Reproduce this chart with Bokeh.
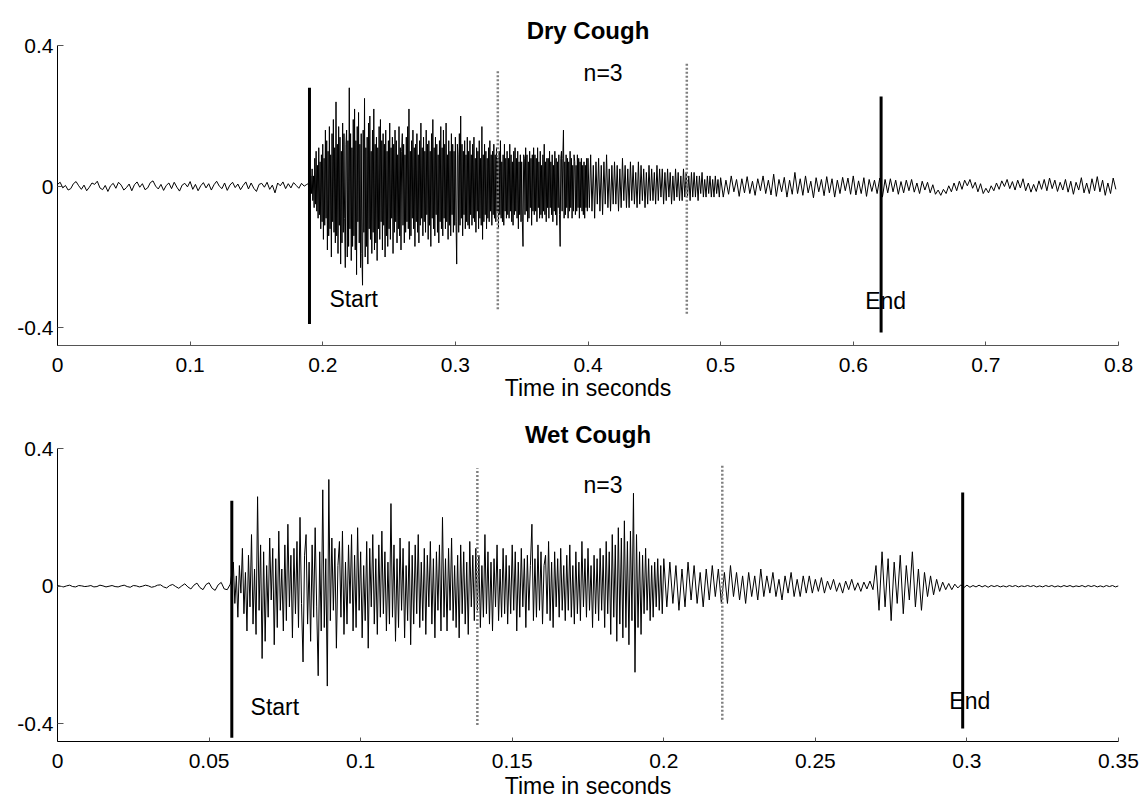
import numpy as np
from bokeh.plotting import figure
from bokeh.layouts import column
from bokeh.models import Range1d, FixedTicker, CustomJSTickFormatter, ColumnDataSource
from bokeh.core.properties import value
from bokeh.embed import file_html
from bokeh.resources import INLINE

FONT = "Liberation Sans"

# ================= Dry cough waveform (amplitude) =================
# segment 1: t = 0 .. 0.188 s, every 2 ms
dry_pre_start, dry_pre_step = 0.0, 0.002
dry_pre = [
    0.006, 0.012, -0.004, 0.003, -0.010, -0.006, 0.008, 0.014, 0.002, -0.008,
    0.004, -0.012, -0.002, 0.010, 0.006, 0.015, -0.004, -0.009, 0.003, -0.014,
    0.002, 0.009, -0.005, 0.012, 0.004, -0.010, -0.003, 0.007, -0.012, 0.005,
    0.013, -0.002, 0.008, -0.009, -0.004, 0.011, 0.016, 0.001, -0.007, 0.006,
    -0.011, 0.003, 0.010, -0.006, 0.012, -0.002, -0.013, 0.004, 0.009, -0.001,
    0.014, -0.008, 0.006, -0.012, 0.002, 0.011, -0.004, 0.008, -0.010, 0.005,
    0.015, 0.001, -0.006, 0.010, -0.011, 0.004, 0.012, -0.003, 0.007, -0.009,
    0.003, 0.013, -0.007, 0.010, -0.005, -0.014, 0.006, 0.009, -0.002, 0.012,
    -0.008, 0.004, -0.018, 0.010, 0.002, 0.013, -0.006, 0.008, -0.004, 0.011,
    0.003, -0.005, 0.009, 0.001, 0.006,
]
# segment 2: t = 0.190 .. 0.3995 s, every 0.5 ms
dry_burst_start, dry_burst_step = 0.190, 0.0005
dry_burst = [
    0.01, -0.02, 0.03, -0.02, 0.05, -0.04, 0.03, -0.06, 0.08, -0.05, 0.10, -0.07, 0.06, -0.09, 0.11, -0.08, 0.07, -0.12, 0.09, -0.10,
    0.12, -0.15, 0.08, -0.11, 0.16, -0.09, 0.13, -0.18, 0.10, -0.14, 0.17, -0.12, 0.09, -0.20, 0.15, -0.10, 0.19, -0.13, 0.11, -0.16,
    0.24, -0.14, 0.12, -0.19, 0.17, -0.11, 0.14, -0.22, 0.10, -0.16, 0.18, -0.13, 0.15, -0.09, -0.23, 0.12, 0.16, -0.20, 0.13, -0.17,
    0.28, -0.12, 0.15, -0.21, 0.11, -0.17, 0.19, -0.14, 0.22, -0.18, 0.13, -0.25, 0.17, -0.10, 0.21, -0.16, 0.12, -0.23, 0.15, -0.19,
    -0.28, 0.16, -0.13, 0.25, -0.20, 0.11, -0.17, 0.14, -0.22, 0.18, -0.12, 0.20, -0.15, 0.10, -0.19, 0.16, -0.13, 0.22, -0.18, 0.12,
    -0.16, 0.14, -0.21, 0.11, -0.12, 0.17, -0.15, 0.19, -0.10, 0.13, -0.18, 0.15, -0.11, 0.12, -0.20, 0.16, -0.14, 0.10, -0.17, 0.13,
    -0.12, 0.18, -0.15, 0.11, -0.09, 0.14, -0.19, 0.12, -0.13, 0.16, -0.10, 0.13, -0.16, 0.09, -0.12, 0.17, -0.14, 0.11, -0.18, 0.10,
    0.15, -0.11, 0.12, -0.16, 0.09, -0.13, 0.14, -0.10, 0.17, -0.12, 0.22, -0.15, 0.10, -0.14, 0.13, -0.09, 0.16, -0.12, 0.11, -0.17,
    0.12, -0.10, 0.15, -0.13, 0.09, -0.16, 0.13, -0.11, 0.18, -0.09, 0.11, -0.14, 0.14, -0.10, 0.10, -0.13, 0.16, -0.08, 0.12, -0.15,
    0.13, -0.11, 0.10, -0.17, 0.15, -0.09, 0.19, -0.12, 0.11, -0.14, 0.14, -0.08, 0.12, -0.13, 0.09, -0.16, 0.13, -0.10, 0.17, -0.12,
    0.11, -0.14, 0.16, -0.09, 0.12, -0.12, 0.18, -0.10, 0.09, -0.15, 0.13, -0.11, 0.10, -0.14, 0.15, -0.08, 0.12, -0.13, 0.10, -0.11,
    0.14, -0.10, -0.22, 0.12, 0.09, -0.13, 0.15, -0.11, 0.20, -0.09, 0.12, -0.14, 0.10, -0.08, 0.13, -0.12, 0.09, -0.10, 0.14, -0.11,
    0.10, -0.12, 0.13, -0.08, 0.09, -0.11, 0.12, -0.09, 0.14, -0.10, 0.08, -0.13, 0.11, -0.07, 0.10, -0.12, 0.13, -0.09, 0.08, -0.11,
    0.17, -0.15, 0.09, -0.10, 0.12, -0.08, 0.10, -0.12, 0.08, -0.09, 0.11, -0.10, 0.13, -0.07, 0.09, -0.11, 0.10, -0.08, 0.12, -0.09,
    0.09, -0.10, 0.11, -0.07, 0.08, -0.12, 0.10, -0.08, 0.13, -0.09, 0.07, -0.10, 0.09, -0.11, 0.12, -0.07, 0.08, -0.09, 0.10, -0.08,
    0.08, -0.09, 0.12, -0.07, 0.09, -0.10, 0.07, -0.11, 0.10, -0.08, 0.11, -0.07, 0.08, -0.09, 0.10, -0.12, 0.07, -0.08, 0.09, -0.10,
    0.07, -0.10, -0.17, 0.09, 0.08, -0.08, 0.11, -0.07, 0.09, -0.10, 0.07, -0.09, 0.10, -0.06, 0.08, -0.11, 0.09, -0.07, 0.11, -0.08,
    0.09, -0.07, 0.08, -0.10, 0.11, -0.06, 0.07, -0.09, 0.10, -0.08, 0.06, -0.09, 0.09, -0.07, 0.12, -0.08, 0.07, -0.10, 0.08, -0.06,
    0.08, -0.09, 0.10, -0.06, 0.07, -0.08, 0.09, -0.10, 0.06, -0.07, 0.10, -0.08, 0.08, -0.11, 0.07, -0.06, 0.09, -0.08, -0.17, 0.08,
    0.10, -0.07, 0.08, 0.16, -0.09, 0.07, -0.08, 0.09, -0.06, 0.08, -0.09, 0.07, -0.07, 0.10, -0.06, 0.08, -0.09, 0.06, -0.07, 0.09,
    0.07, -0.08, 0.06, -0.07, 0.09, -0.06, 0.08, -0.09, 0.07, -0.06, 0.08, -0.07, 0.06, -0.08, 0.07, -0.09, 0.06, -0.06, 0.08, -0.07,
]
# segment 3: t = 0.400 .. 0.499 s, every 1 ms
dry_decay_start, dry_decay_step = 0.400, 0.001
dry_decay = [
    0.08, -0.06, 0.09, -0.07, 0.06, -0.09, 0.07, -0.05, 0.08, -0.07,
    0.06, -0.08, 0.07, -0.05, 0.09, -0.06, 0.05, -0.07, 0.06, -0.05,
    0.07, -0.05, 0.06, -0.07, 0.05, -0.06, 0.08, -0.04, 0.06, -0.06,
    0.05, -0.06, 0.07, -0.04, 0.06, -0.05, 0.04, -0.06, 0.07, -0.05,
    0.06, -0.04, 0.05, -0.06, 0.04, -0.05, 0.06, -0.04, 0.05, -0.04,
    0.04, -0.05, 0.06, -0.04, 0.05, -0.03, 0.05, -0.05, 0.04, -0.04,
    0.05, -0.03, 0.04, -0.05, 0.03, -0.04, 0.05, -0.03, 0.04, -0.04,
    0.03, -0.04, 0.05, -0.03, 0.04, -0.03, 0.03, -0.04, 0.04, -0.03,
    0.04, -0.03, 0.03, -0.04, 0.03, -0.02, 0.04, -0.03, 0.02, -0.03,
    0.03, -0.02, 0.03, -0.03, 0.02, -0.03, 0.03, -0.02, 0.02, -0.03,
]
# segment 4: t = 0.500 .. 0.798 s, every 2 ms
dry_tail_start, dry_tail_step = 0.500, 0.002
dry_tail = [
    0.025, -0.030, 0.018, -0.022, 0.030, -0.015, 0.020, -0.028, 0.022, -0.018,
    0.028, -0.020, 0.015, -0.025, 0.022, -0.012, 0.030, -0.020, 0.018, -0.024,
    0.035, -0.028, 0.020, -0.015, 0.026, -0.030, 0.018, -0.022, 0.040, -0.020,
    0.022, -0.025, 0.030, -0.018, 0.015, -0.032, 0.025, -0.015, 0.020, -0.026,
    0.028, -0.018, 0.022, -0.030, 0.018, -0.020, 0.026, -0.012, 0.024, -0.022,
    0.030, -0.024, 0.016, -0.020, 0.025, -0.028, 0.020, -0.014, 0.018, -0.020,
    0.024, -0.030, 0.020, -0.018, 0.022, -0.015, 0.018, -0.022, 0.014, -0.018,
    0.018, -0.012, 0.020, -0.016, 0.010, -0.020, 0.015, -0.010, 0.012, -0.018,
    0.005, -0.022, -0.010, -0.025, -0.008, -0.020, 0.002, -0.015, 0.010, -0.012,
    0.015, -0.008, 0.018, 0.002, 0.020, -0.005, 0.012, -0.015, 0.008, -0.020,
    -0.005, -0.018, 0.002, -0.012, 0.010, -0.008, 0.016, 0.000, 0.020, -0.006,
    0.014, -0.010, 0.018, -0.004, 0.022, -0.012, 0.010, -0.016, 0.006, -0.014,
    0.016, -0.008, 0.020, -0.012, 0.024, -0.006, 0.018, -0.014, 0.012, -0.010,
    0.020, -0.016, 0.015, -0.022, 0.012, -0.010, 0.025, -0.018, 0.010, -0.020,
    0.022, -0.012, 0.028, -0.015, 0.018, -0.025, 0.010, -0.020, 0.024, -0.008,
]

# ================= Wet cough waveform (amplitude) =================
# segment 1: t = 0 .. 0.057 s, every 1 ms
wet_pre_start, wet_pre_step = 0.0, 0.001
wet_pre = [
    0.002, 0.000, -0.002, 0.001, 0.003, -0.001, -0.002, 0.002, 0.001, -0.001,
    0.000, 0.002, -0.002, -0.001, 0.003, 0.001, -0.002, 0.000, 0.002, -0.001,
    -0.002, 0.001, 0.003, -0.001, -0.003, 0.002, 0.001, -0.002, 0.000, 0.003,
    0.001, -0.003, -0.001, 0.003, 0.004, -0.002, -0.005, 0.002, 0.005, -0.001,
    -0.006, 0.001, 0.007, -0.002, -0.008, 0.003, 0.009, -0.004, -0.010, 0.005,
    0.010, -0.006, -0.012, 0.004, 0.011, -0.008, -0.010, 0.006,
]
# segment 2: t = 0.058 .. 0.1995 s, every 0.5 ms
wet_burst_start, wet_burst_step = 0.058, 0.0005
wet_burst = [
    0.07, -0.05, 0.03, -0.09, 0.06, -0.02, 0.11, -0.08, 0.04, -0.13, 0.09, -0.06, 0.15, -0.11, 0.05, -0.14, 0.26, -0.07, 0.12, -0.21,
    0.10, -0.16, 0.06, -0.09, 0.14, -0.04, 0.11, -0.17, 0.08, -0.12, 0.16, -0.07, 0.05, -0.13, 0.12, -0.10, 0.18, -0.06, 0.09, -0.15,
    0.11, -0.08, 0.13, -0.12, 0.20, -0.05, -0.22, 0.09, 0.15, -0.11, 0.07, -0.16, 0.12, -0.09, 0.17, -0.06, -0.26, 0.10, -0.13, 0.28,
    -0.12, 0.08, -0.29, 0.31, -0.10, 0.14, -0.07, 0.11, -0.18, 0.06, 0.13, -0.09, 0.16, -0.14, 0.07, -0.11, 0.12, -0.05, 0.15, -0.13,
    0.09, -0.12, 0.17, -0.07, 0.10, -0.15, 0.06, -0.10, 0.13, -0.18, 0.11, -0.06, 0.15, -0.11, 0.08, -0.14, 0.12, -0.09, 0.16, -0.08,
    0.10, -0.13, 0.07, -0.11, 0.24, -0.09, 0.12, -0.16, 0.08, -0.12, 0.14, -0.07, 0.11, -0.15, 0.06, -0.10, 0.13, -0.17, 0.09, -0.11,
    0.12, -0.08, 0.15, -0.12, 0.07, -0.10, 0.11, -0.14, 0.09, -0.06, 0.13, -0.11, 0.08, -0.15, 0.10, -0.07, 0.12, -0.13, 0.20, -0.09,
    0.08, -0.13, 0.11, -0.07, 0.14, -0.10, 0.06, -0.12, 0.09, -0.15, 0.12, -0.08, 0.10, -0.11, 0.07, -0.14, 0.13, -0.06, 0.09, -0.10,
    0.11, -0.07, 0.09, -0.12, 0.06, -0.09, 0.15, -0.08, 0.10, -0.11, 0.07, -0.13, 0.08, -0.06, 0.12, -0.10, 0.05, -0.09, 0.11, -0.08,
    0.09, -0.11, 0.06, -0.08, 0.12, -0.07, 0.10, -0.13, 0.07, -0.09, 0.11, -0.06, 0.08, -0.12, 0.09, -0.07, 0.06, 0.18, -0.10, 0.08,
    -0.09, 0.12, -0.07, 0.10, -0.11, 0.06, 0.09, -0.08, 0.13, -0.10, 0.07, -0.12, 0.10, -0.06, 0.08, -0.09, 0.11, -0.07, 0.06, -0.10,
    0.09, -0.07, 0.12, -0.09, 0.06, -0.11, 0.10, -0.08, 0.07, -0.10, 0.13, -0.06, 0.08, -0.09, 0.11, -0.07, 0.06, -0.12, 0.09, -0.08,
    0.08, -0.10, 0.11, -0.07, 0.09, -0.12, 0.13, -0.08, 0.10, -0.14, 0.15, -0.09, 0.12, -0.16, 0.17, -0.11, 0.14, -0.15, 0.19, -0.12,
    0.13, -0.17, 0.16, -0.10, 0.27, -0.25, 0.15, -0.12, 0.10, -0.14, 0.09, -0.08, 0.11, -0.07, 0.08, -0.10, 0.06, -0.09, 0.07, -0.06,
    0.08, -0.07, 0.06, -0.08,
]
# segment 3: t = 0.200 .. 0.350 s, every 1 ms
wet_post_start, wet_post_step = 0.200, 0.001
wet_post = [
    0.080, -0.060, 0.070, -0.050, 0.060, -0.070, 0.050, -0.060, 0.070, -0.040,
    0.060, -0.050, 0.040, -0.060, 0.050, -0.040, 0.060, -0.030, 0.050, -0.050,
    0.040, -0.050, 0.060, -0.030, 0.040, -0.040, 0.030, -0.050, 0.040, -0.030,
    0.030, -0.040, 0.050, -0.030, 0.030, -0.020, 0.040, -0.030, 0.020, -0.040,
    0.030, -0.020, 0.040, -0.030, 0.020, -0.030, 0.030, -0.020, 0.030, -0.020,
    0.020, -0.015, 0.025, -0.020, 0.015, -0.010, 0.020, -0.015, 0.010, -0.020,
    0.015, -0.010, 0.020, -0.012, 0.010, -0.015, 0.012, -0.008, 0.015, -0.010,
    0.060, -0.070, 0.100, -0.060, 0.080, -0.100, 0.070, -0.050, 0.090, -0.080,
    0.060, -0.040, 0.100, -0.060, 0.050, -0.070, 0.040, -0.030, 0.030, -0.025,
    0.020, -0.015, 0.012, -0.010, 0.008, -0.010, 0.006, -0.005, 0.004, -0.004,
    0.003, -0.003, 0.002, -0.002, 0.003, -0.002, 0.002, -0.003, 0.002, -0.001,
    0.002, -0.002, 0.001, -0.002, 0.002, -0.001, 0.002, -0.002, 0.001, -0.001,
    0.002, -0.001, 0.002, -0.002, 0.001, -0.002, 0.002, -0.001, 0.002, -0.002,
    0.001, -0.002, 0.002, -0.001, 0.002, -0.002, 0.001, -0.001, 0.002, -0.002,
    0.002, -0.001, 0.002, -0.002, 0.001, -0.002, 0.002, -0.001, 0.002, -0.002,
    0.001,
]

# ================= annotations =================
dry_bound_x = [0.19, 0.621]
dry_bound_top = [0.28, 0.255]
dry_bound_bottom = [-0.39, -0.414]
dry_third_x = [0.332, 0.4745]
dry_third_top = [0.329, 0.353]
dry_third_bottom = [-0.348, -0.361]
dry_label_text = ["Start", "End", "n=3"]
dry_label_x = [0.205, 0.609, 0.3967]
dry_label_y = [-0.32, -0.324, 0.322]

wet_bound_x = [0.0575, 0.2986]
wet_bound_top = [0.248, 0.272]
wet_bound_bottom = [-0.44, -0.413]
wet_third_x = [0.1385, 0.2193]
wet_third_top = [0.343, 0.355]
wet_third_bottom = [-0.403, -0.388]
wet_label_text = ["Start", "End", "n=3"]
wet_label_x = [0.0637, 0.2942, 0.1735]
wet_label_y = [-0.352, -0.332, 0.294]

dry_xticks = [0, 0.1, 0.2, 0.3, 0.4, 0.5, 0.6, 0.7, 0.8]
wet_xticks = [0, 0.05, 0.1, 0.15, 0.2, 0.25, 0.3, 0.35]
yticks = [-0.4, 0, 0.4]
x_title = "Time in seconds"


def seg_times(start, step, vals):
    return start + step * np.arange(len(vals))


def make_panel(title, t, y, xmax, xticks, bx, btop, bbot, tx, ttop, tbot,
               ltext, lx, ly, height, top_border, bottom_border, xaxis_color,
               title_standoff, xlabel_standoff):
    p = figure(width=1143, height=height, output_backend="svg", toolbar_location=None,
               x_range=Range1d(0, xmax), y_range=Range1d(-0.451, 0.4),
               min_border_left=57, min_border_right=25,
               min_border_top=top_border, min_border_bottom=bottom_border,
               background_fill_color="white", border_fill_color="white")
    p.outline_line_color = None
    p.grid.visible = False

    p.title.text = title
    p.title.align = "center"
    p.title.text_font = FONT
    p.title.text_font_size = "24px"
    p.title.text_font_style = "bold"
    p.title.text_color = "black"
    p.title.standoff = title_standoff

    p.line(t, y, line_color="black", line_width=1)

    p.segment(x0=bx, y0=bbot, x1=bx, y1=btop, line_color="black", line_width=3)
    p.segment(x0=tx, y0=tbot, x1=tx, y1=ttop, line_color="#7f7f7f", line_width=2.5,
              line_dash="2 2")

    src = ColumnDataSource(dict(x=lx, y=ly, text=ltext))
    p.text(x="x", y="y", text="text", source=src, text_font=value(FONT),
           text_font_size="23px", text_baseline="middle", text_align="left",
           text_color="black")

    fmt = CustomJSTickFormatter(code="return tick.toString();")
    xa = p.xaxis[0]
    xa.ticker = FixedTicker(ticks=xticks)
    xa.formatter = fmt
    xa.axis_label = x_title
    xa.axis_label_text_font = FONT
    xa.axis_label_text_font_size = "23px"
    xa.axis_label_text_font_style = "normal"
    xa.axis_label_text_color = "black"
    xa.axis_label_standoff = xlabel_standoff
    xa.major_label_text_font = FONT
    xa.major_label_text_font_size = "21px"
    xa.major_label_text_color = "black"
    xa.major_label_standoff = 12
    xa.axis_line_color = xaxis_color
    xa.major_tick_in = 4
    xa.major_tick_out = 0
    xa.major_tick_line_color = "#555555"
    xa.minor_tick_line_color = None

    ya = p.yaxis[0]
    ya.ticker = FixedTicker(ticks=yticks)
    ya.formatter = fmt
    ya.major_label_text_font = FONT
    ya.major_label_text_font_size = "21px"
    ya.major_label_text_color = "black"
    ya.major_label_standoff = 4
    ya.axis_line_color = "black"
    ya.major_tick_in = 6
    ya.major_tick_out = 0
    ya.major_tick_line_color = "#555555"
    ya.minor_tick_line_color = None
    return p


t_dry = np.concatenate([
    seg_times(dry_pre_start, dry_pre_step, dry_pre),
    seg_times(dry_burst_start, dry_burst_step, dry_burst),
    seg_times(dry_decay_start, dry_decay_step, dry_decay),
    seg_times(dry_tail_start, dry_tail_step, dry_tail),
])
y_dry = np.array(dry_pre + dry_burst + dry_decay + dry_tail)

t_wet = np.concatenate([
    seg_times(wet_pre_start, wet_pre_step, wet_pre),
    seg_times(wet_burst_start, wet_burst_step, wet_burst),
    seg_times(wet_post_start, wet_post_step, wet_post),
])
y_wet = np.array(wet_pre + wet_burst + wet_post)

p1 = make_panel("Dry Cough", t_dry, y_dry, 0.8, dry_xticks,
                dry_bound_x, dry_bound_top, dry_bound_bottom,
                dry_third_x, dry_third_top, dry_third_bottom,
                dry_label_text, dry_label_x, dry_label_y,
                height=404, top_border=45, bottom_border=59,
                xaxis_color="#555555", title_standoff=4, xlabel_standoff=0)
p2 = make_panel("Wet Cough", t_wet, y_wet, 0.35, wet_xticks,
                wet_bound_x, wet_bound_top, wet_bound_bottom,
                wet_third_x, wet_third_top, wet_third_bottom,
                wet_label_text, wet_label_x, wet_label_y,
                height=397, top_border=44, bottom_border=60,
                xaxis_color="black", title_standoff=1, xlabel_standoff=2)

layout = column(p1, p2, spacing=0)
open("out.html", "w").write(file_html(layout, INLINE))
